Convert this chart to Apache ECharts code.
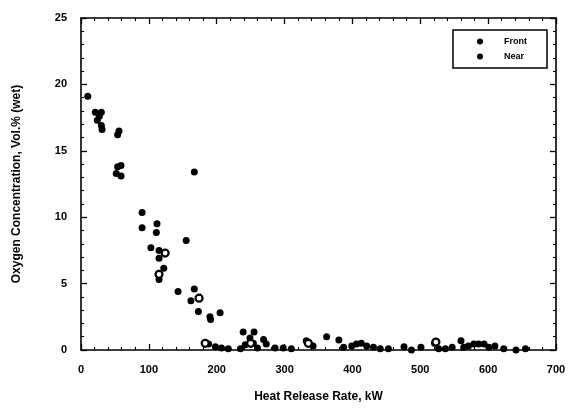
<!DOCTYPE html>
<html>
<head>
<meta charset="utf-8">
<script src="https://cdn.jsdelivr.net/npm/echarts@6/dist/echarts.min.js"></script>
<style>html,body{margin:0;padding:0;background:#fff;}#c{width:572px;height:415px;}</style>
</head>
<body>
<div id="c"></div>
<script>
var xTicks = [0, 100, 200, 300, 400, 500, 600, 700];
var yTicks = [0, 5, 10, 15, 20, 25];
var seriesNames = ['Front', 'Near'];
var frontX = [10,21,27,30,24,30,31,54,56,54,59,52,59,167,
  90,90,112,111,103,115,115,122,115,155,143,167,162,173,190,191,205,239,255,249,269,188,198,207,217,235,242,254,260,273,286,298,310,
  332,342,362,380,387,399,406,413,421,431,441,453,476,487,501,
  521,527,537,547,560,564,571,579,586,594,601,610,623,641,655];
var frontY = [19.1,17.9,17.6,17.9,17.3,16.9,16.6,16.2,16.5,13.8,13.9,13.3,13.1,13.4,
  10.35,9.2,9.5,8.85,7.7,7.5,6.9,6.15,5.3,8.25,4.4,4.6,3.7,2.9,2.5,2.3,2.8,1.35,1.35,0.9,0.8,0.45,0.25,0.15,0.1,0.1,0.4,0.5,0.15,0.45,0.15,0.15,0.1,
  0.7,0.3,1.0,0.75,0.2,0.3,0.45,0.5,0.3,0.2,0.1,0.1,0.25,0.0,0.2,
  0.5,0.1,0.1,0.2,0.7,0.2,0.3,0.45,0.45,0.45,0.2,0.3,0.1,0.0,0.1];
var nearX = [124,115,174,183,250,335,523];
var nearY = [7.3,5.7,3.9,0.5,0.5,0.5,0.6];

function pairs(xs, ys){ return xs.map(function(x,i){ return [x, ys[i]]; }); }

var chart = echarts.init(document.getElementById('c'));
var font = '"Liberation Sans", Arial, sans-serif';
var axisCommon = {
  axisLine: {show: true, onZero: false, lineStyle: {color: '#000', width: 1.6}},
  axisTick: {show: true, inside: true, length: 6, lineStyle: {color: '#000', width: 1.3}},
  minorTick: {show: true, splitNumber: 5, length: 3, lineStyle: {color: '#000', width: 1.1}},
  splitLine: {show: false}
};
chart.setOption({
  animation: false,
  backgroundColor: '#fff',
  grid: {left: 81, right: 16, top: 18, bottom: 65},
  legend: {
    orient: 'vertical', left: 453, top: 30,
    data: [{name: 'Front', itemStyle: {color: '#000', borderWidth: 0}}, {name: 'Near', itemStyle: {color: '#000', borderWidth: 0}}],
    icon: 'circle', itemWidth: 6, itemHeight: 6, itemGap: 6,
    padding: [7, 20, 7, 24],
    backgroundColor: '#fff', borderColor: '#000', borderWidth: 1.5,
    textStyle: {fontFamily: font, fontWeight: 'bold', fontSize: 9, color: '#000', padding: [0, 0, 0, 16]}
  },
  xAxis: [
    Object.assign({type: 'value', min: 0, max: 700, interval: 100, position: 'bottom',
      axisLabel: {color: '#000', fontFamily: font, fontWeight: 'bold', fontSize: 11, margin: 14,
        formatter: function(v){ return xTicks.indexOf(v) >= 0 ? String(v) : ''; }},
      name: 'Heat Release Rate, kW', nameLocation: 'middle', nameGap: 41,
      nameTextStyle: {color: '#000', fontFamily: font, fontWeight: 'bold', fontSize: 12}}, axisCommon),
    Object.assign({type: 'value', min: 0, max: 700, interval: 100, position: 'top', axisLabel: {show: false}}, axisCommon)
  ],
  yAxis: [
    Object.assign({type: 'value', min: 0, max: 25, interval: 5, position: 'left',
      axisLabel: {color: '#000', fontFamily: font, fontWeight: 'bold', fontSize: 11, margin: 14,
        formatter: function(v){ return yTicks.indexOf(v) >= 0 ? String(v) : ''; }},
      name: 'Oxygen Concentration, Vol.% (wet)', nameLocation: 'middle', nameGap: 58, nameRotate: 90,
      nameTextStyle: {color: '#000', fontFamily: font, fontWeight: 'bold', fontSize: 12}}, axisCommon),
    Object.assign({type: 'value', min: 0, max: 25, interval: 5, position: 'right', axisLabel: {show: false}}, axisCommon)
  ],
  series: [
    {name: seriesNames[0], type: 'scatter', xAxisIndex: 0, yAxisIndex: 0, symbol: 'circle', symbolSize: 7,
      itemStyle: {color: '#000', opacity: 1}, data: pairs(frontX, frontY)},
    {name: seriesNames[1], type: 'scatter', xAxisIndex: 0, yAxisIndex: 0, symbol: 'circle', symbolSize: 7,
      itemStyle: {color: '#fff', borderColor: '#000', borderWidth: 2.2, opacity: 1}, data: pairs(nearX, nearY)}
  ]
});
</script>
</body>
</html>
